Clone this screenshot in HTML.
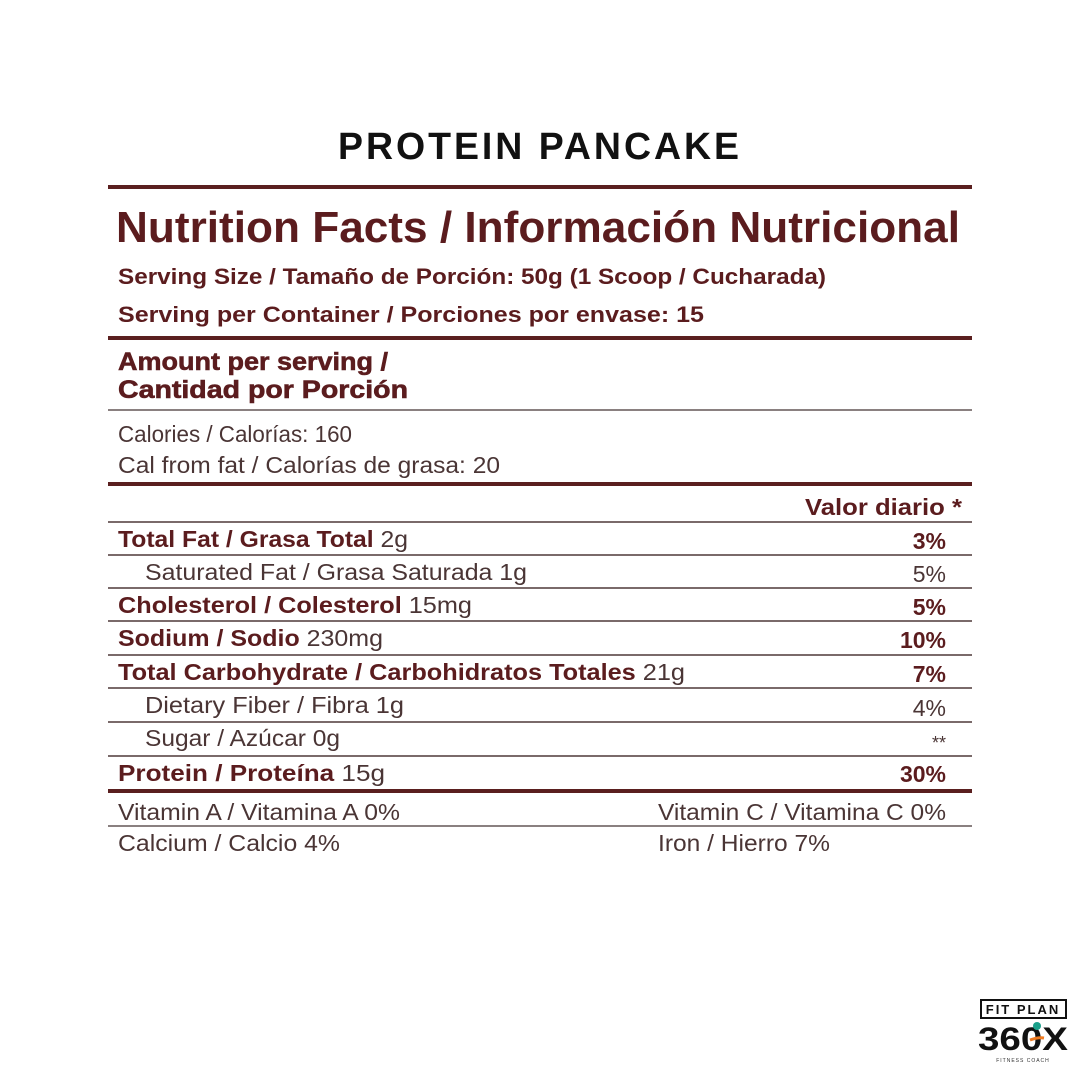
<!DOCTYPE html>
<html><head><meta charset="utf-8"><style>
html,body{margin:0;padding:0;background:#fff;width:1080px;height:1080px;overflow:hidden}
</style></head><body>
<svg width="1080" height="1080" viewBox="0 0 1080 1080" xmlns="http://www.w3.org/2000/svg" font-family="Liberation Sans, sans-serif">
<rect width="1080" height="1080" fill="#fff"/>
<text x="338" y="159" font-size="38" font-weight="bold" fill="#111" textLength="404" lengthAdjust="spacingAndGlyphs" letter-spacing="3">PROTEIN PANCAKE</text>
<g fill="none">
<rect x="108" y="185" width="864" height="4" fill="#5a1f1f"/>
<rect x="108" y="336" width="864" height="4" fill="#5a1f1f"/>
<rect x="108" y="409" width="864" height="2" fill="#8a8080"/>
<rect x="108" y="482" width="864" height="4" fill="#5a1f1f"/>
<rect x="108" y="521" width="864" height="2" fill="#7a6a6a"/>
<rect x="108" y="554" width="864" height="2" fill="#7a6a6a"/>
<rect x="108" y="587" width="864" height="2" fill="#7a6a6a"/>
<rect x="108" y="620" width="864" height="2" fill="#7a6a6a"/>
<rect x="108" y="654" width="864" height="2" fill="#7a6a6a"/>
<rect x="108" y="687" width="864" height="2" fill="#7a6a6a"/>
<rect x="108" y="721" width="864" height="2" fill="#7a6a6a"/>
<rect x="108" y="755" width="864" height="2" fill="#7a6a6a"/>
<rect x="108" y="789" width="864" height="4" fill="#5a1f1f"/>
<rect x="108" y="825" width="864" height="2" fill="#8a8080"/>
</g>
<g fill="#5b1c1e" font-weight="bold">
<text x="116" y="242" font-size="44" textLength="844" lengthAdjust="spacingAndGlyphs">Nutrition Facts / Información Nutricional</text>
<text x="118" y="284" font-size="22" textLength="708" lengthAdjust="spacingAndGlyphs">Serving Size / Tamaño de Porción: 50g (1 Scoop / Cucharada)</text>
<text x="118" y="322" font-size="22" textLength="586" lengthAdjust="spacingAndGlyphs">Serving per Container / Porciones por envase: 15</text>
<text x="118" y="370" font-size="25" textLength="270" lengthAdjust="spacingAndGlyphs" stroke="#5b1c1e" stroke-width="0.6">Amount per serving /</text>
<text x="118" y="398" font-size="25" textLength="290" lengthAdjust="spacingAndGlyphs" stroke="#5b1c1e" stroke-width="0.6">Cantidad por Porción</text>
<text x="805" y="515" font-size="23" textLength="157" lengthAdjust="spacingAndGlyphs">Valor diario *</text>
</g>
<g fill="#4a3535" font-size="23">
<text x="118" y="442" textLength="234" lengthAdjust="spacingAndGlyphs">Calories / Calorías: 160</text>
<text x="118" y="473" textLength="382" lengthAdjust="spacingAndGlyphs">Cal from fat / Calorías de grasa: 20</text>

<text x="118" y="547" textLength="290" lengthAdjust="spacingAndGlyphs"><tspan font-weight="bold" fill="#5b1c1e">Total Fat / Grasa Total</tspan> 2g</text>
<text x="145" y="580" textLength="382" lengthAdjust="spacingAndGlyphs">Saturated Fat / Grasa Saturada 1g</text>
<text x="118" y="613" textLength="354" lengthAdjust="spacingAndGlyphs"><tspan font-weight="bold" fill="#5b1c1e">Cholesterol / Colesterol</tspan> 15mg</text>
<text x="118" y="646" textLength="265" lengthAdjust="spacingAndGlyphs"><tspan font-weight="bold" fill="#5b1c1e">Sodium / Sodio</tspan> 230mg</text>
<text x="118" y="680" textLength="567" lengthAdjust="spacingAndGlyphs"><tspan font-weight="bold" fill="#5b1c1e">Total Carbohydrate / Carbohidratos Totales</tspan> 21g</text>
<text x="145" y="713" textLength="259" lengthAdjust="spacingAndGlyphs">Dietary Fiber / Fibra  1g</text>
<text x="145" y="746" textLength="195" lengthAdjust="spacingAndGlyphs">Sugar / Azúcar 0g</text>
<text x="118" y="781" textLength="267" lengthAdjust="spacingAndGlyphs"><tspan font-weight="bold" fill="#5b1c1e">Protein / Proteína</tspan> 15g</text>
<text x="118" y="820" textLength="282" lengthAdjust="spacingAndGlyphs">Vitamin A / Vitamina A 0%</text>
<text x="118" y="851" textLength="222" lengthAdjust="spacingAndGlyphs">Calcium / Calcio 4%</text>
<text x="658" y="820" textLength="288" lengthAdjust="spacingAndGlyphs">Vitamin C / Vitamina C 0%</text>
<text x="658" y="851" textLength="172" lengthAdjust="spacingAndGlyphs">Iron / Hierro 7%</text>
</g>
<g font-size="23" text-anchor="end">
<text x="946" y="549" font-weight="bold" fill="#5b1c1e">3%</text>
<text x="946" y="582" fill="#4a3535">5%</text>
<text x="946" y="615" font-weight="bold" fill="#5b1c1e">5%</text>
<text x="946" y="648" font-weight="bold" fill="#5b1c1e">10%</text>
<text x="946" y="682" font-weight="bold" fill="#5b1c1e">7%</text>
<text x="946" y="716" fill="#4a3535">4%</text>
<text x="946" y="749" font-size="18" fill="#4a3535">**</text>
<text x="946" y="782" font-weight="bold" fill="#5b1c1e">30%</text>
</g>
<!-- logo -->
<rect x="981" y="1000" width="85" height="18" fill="none" stroke="#111" stroke-width="2"/>
<text x="1023" y="1014" font-size="13" font-weight="bold" text-anchor="middle" fill="#111" letter-spacing="2">FIT PLAN</text>
<text x="978" y="1050" font-size="32" font-weight="bold" fill="#111" textLength="90" lengthAdjust="spacingAndGlyphs">360X</text>
<circle cx="1037" cy="1026" r="4" fill="#1aa08a"/>
<path d="M1030 1040 q8 -3 14 -2" stroke="#f07a20" stroke-width="3" fill="none"/>
<text x="1023" y="1062" font-size="5" text-anchor="middle" fill="#333" letter-spacing="1">FITNESS COACH</text>
</svg>
</body></html>
